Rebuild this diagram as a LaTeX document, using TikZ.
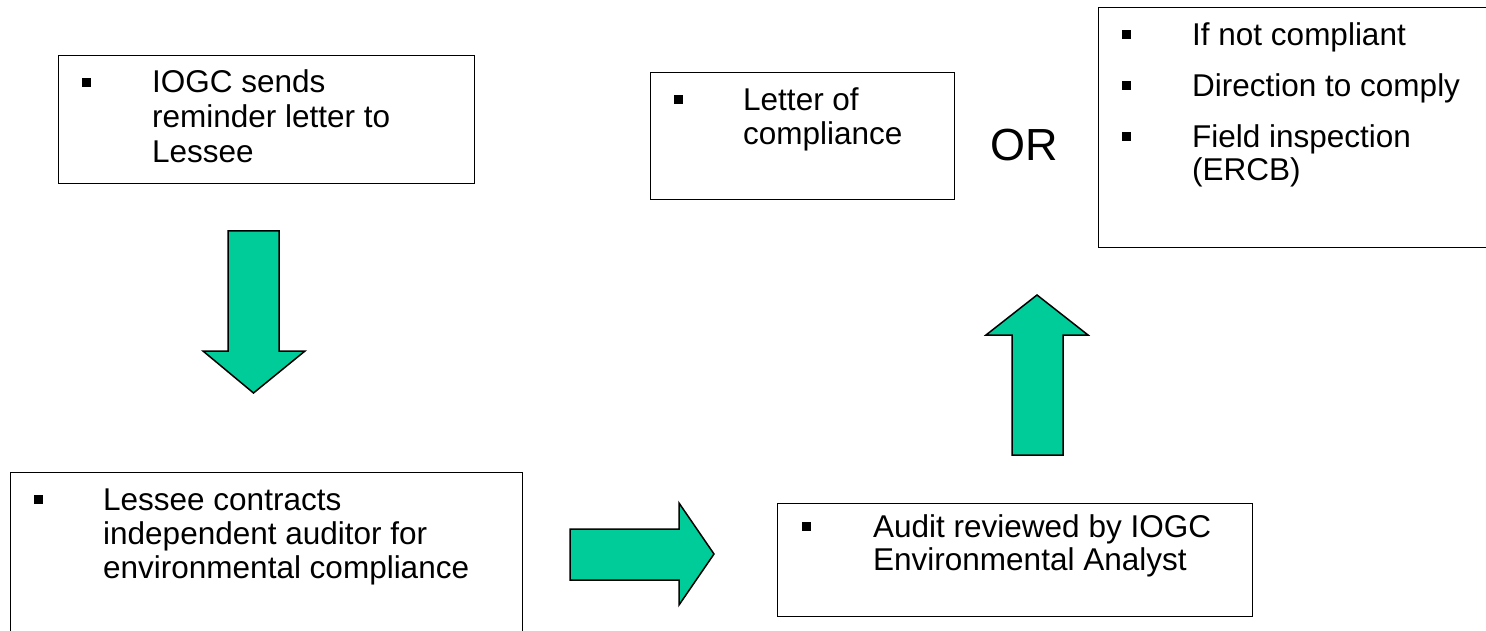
\documentclass[tikz,border=0pt]{standalone}
\usepackage{fontspec}
\setmainfont{Liberation Sans}
\definecolor{arrowgreen}{RGB}{0,204,153}
\begin{document}
\begin{tikzpicture}[x=1pt,y=-1pt,
  box/.style={draw=black, line width=1.4pt, rectangle, inner sep=0pt, anchor=north west},
  bul/.style={fill=black, rectangle, minimum size=9pt, inner sep=0pt, anchor=center},
  txt/.style={anchor=base west, inner sep=0pt, font=\fontsize{31.5}{35}\selectfont},
  ortxt/.style={anchor=base west, inner sep=0pt, font=\fontsize{45}{50}\selectfont},
  blockarrow/.style={draw=black, line width=1.5pt, fill=arrowgreen, line join=miter}]
\clip (0,0) rectangle (1486,631);
\fill[white] (0,0) rectangle (1486,631);

% Box 1
\node[box, minimum width=416pt, minimum height=128pt] (b1) at (58,55) {};
\node[bul] (b1u1) at (86.5,82.5) {};
\node[txt] (b1t1) at (152,93) {IOGC sends};
\node[txt] (b1t2) at (152,128) {reminder letter to};
\node[txt] (b1t3) at (152,163) {Lessee};

% Box 2
\node[box, minimum width=304pt, minimum height=127pt] (b2) at (650,72) {};
\node[bul] (b2u1) at (678,100) {};
\node[txt] (b2t1) at (743,111) {Letter of};
\node[txt] (b2t2) at (743,145) {compliance};

% OR
\node[ortxt] (or) at (990,161) {OR};

% Box 3
\node[box, minimum width=420pt, minimum height=240pt] (b3) at (1098,7) {};
\node[bul] (b3u1) at (1126.5,35) {};
\node[txt] (b3t1) at (1192,46) {If not compliant};
\node[bul] (b3u2) at (1126.5,85.5) {};
\node[txt] (b3t2) at (1192,97) {Direction to comply};
\node[bul] (b3u3) at (1126.5,136.5) {};
\node[txt] (b3t3) at (1192,148) {Field inspection};
\node[txt] (b3t4) at (1192,181) {(ERCB)};

% Box 4
\node[box, minimum width=512pt, minimum height=180pt] (b4) at (10,472) {};
\node[bul] (b4u1) at (38,499) {};
\node[txt] (b4t1) at (103,510) {Lessee contracts};
\node[txt] (b4t2) at (103,544) {independent auditor for};
\node[txt] (b4t3) at (103,578) {environmental compliance};

% Box 5
\node[box, minimum width=475pt, minimum height=113pt] (b5) at (777,503) {};
\node[bul] (b5u1) at (806,526) {};
\node[txt] (b5t1) at (873,537) {Audit reviewed by IOGC};
\node[txt] (b5t2) at (873,570) {Environmental Analyst};

% Block arrows
\draw[blockarrow] (228,231) -- (279,231) -- (279,351) -- (305,351) -- (253.5,393) -- (203,351) -- (228,351) -- cycle;
\draw[blockarrow] (570,529) -- (679,529) -- (679,503) -- (714,554) -- (679,605) -- (679,580) -- (570,580) -- cycle;
\draw[blockarrow] (1012,455) -- (1012,335) -- (986,335) -- (1037,295) -- (1088,335) -- (1063,335) -- (1063,455) -- cycle;
\end{tikzpicture}
\end{document}
